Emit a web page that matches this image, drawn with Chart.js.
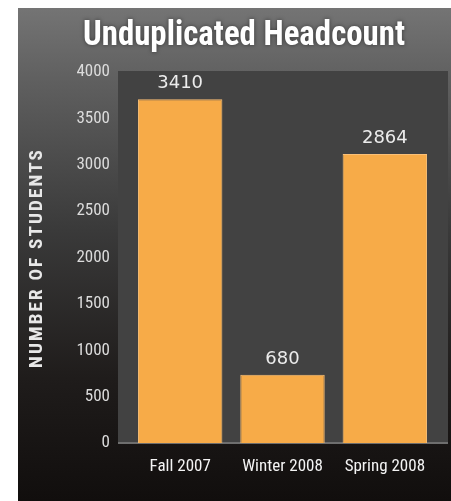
<!DOCTYPE html>
<html><head><meta charset="utf-8">
<script src="https://cdn.jsdelivr.net/npm/chart.js@4"></script>
<style>html,body{margin:0;padding:0;background:#fff;overflow:hidden}</style>
</head><body>
<canvas id="c" width="451" height="501"></canvas>
<script>
// ---- data ----
const titleText = 'Unduplicated Headcount';
const yAxisTitle = 'NUMBER OF STUDENTS';
const categories = ['Fall 2007', 'Winter 2008', 'Spring 2008'];
const barHeights = [3705, 735, 3115];          // bar tops as read against the axis
const valueLabels = ['3410', '680', '2864'];   // numbers printed above the bars
const yTickMin = 0, yTickMax = 4000, yTickStep = 500;

const NARROW = "'Liberation Sans Narrow','Arial Narrow','Roboto Condensed',sans-serif";

const decor = {
  id: 'decor',
  beforeDraw(chart) {
    const ctx = chart.ctx, W = chart.width, H = chart.height, a = chart.chartArea;
    ctx.save();
    ctx.fillStyle = '#ffffff';
    ctx.fillRect(0, 0, W, H);
    const g = ctx.createLinearGradient(0, 8, 0, H);
    g.addColorStop(0, '#747474');
    g.addColorStop(0.15, '#5f5f5f');
    g.addColorStop(0.45, '#3a3a3a');
    g.addColorStop(0.75, '#1f1c1b');
    g.addColorStop(1, '#110e0d');
    ctx.fillStyle = g;
    ctx.fillRect(18, 8, W - 18, H - 8);
    // plot panel
    ctx.fillStyle = '#424242';
    ctx.fillRect(a.left - 11, a.top - 1, a.width + 23, a.height + 1);
    // baseline
    ctx.fillStyle = '#6e6e6e';
    ctx.fillRect(a.left - 11, a.bottom - 1, a.width + 23, 2);
    ctx.restore();
  },
  afterDatasetsDraw(chart) {
    const ctx = chart.ctx;
    const meta = chart.getDatasetMeta(0);
    ctx.save();
    ctx.font = "18px 'DejaVu Sans',sans-serif";
    ctx.fillStyle = '#ececec';
    ctx.textAlign = 'center';
    ctx.textBaseline = 'middle';
    meta.data.forEach((bar, i) => {
      ctx.fillText(valueLabels[i], bar.x, bar.y - 16);
    });
    ctx.restore();
  },
  afterDraw(chart) {
    const ctx = chart.ctx;
    ctx.save();
    // title
    ctx.font = "bold 35px " + NARROW;
    ctx.fillStyle = '#ffffff';
    ctx.textAlign = 'center';
    ctx.textBaseline = 'alphabetic';
    ctx.shadowColor = 'rgba(0,0,0,0.5)';
    ctx.shadowBlur = 4;
    const tw = ctx.measureText(titleText).width;
    ctx.translate(244, 45);
    ctx.scale(322 / tw, 1);
    ctx.fillText(titleText, 0, 0);
    ctx.restore();
    // y axis title
    ctx.save();
    ctx.font = "bold 18px " + NARROW;
    ctx.letterSpacing = '2px';
    ctx.fillStyle = '#e8e8e8';
    ctx.textAlign = 'center';
    ctx.textBaseline = 'middle';
    const yw = ctx.measureText(yAxisTitle).width;
    ctx.translate(37, 258);
    ctx.rotate(-Math.PI / 2);
    ctx.scale(220 / yw, 1);
    ctx.fillText(yAxisTitle, 0, 0);
    ctx.restore();
  }
};

new Chart(document.getElementById('c'), {
  type: 'bar',
  data: {
    labels: categories,
    datasets: [{
      data: barHeights,
      backgroundColor: '#f7ab48',
      borderColor: '#fbc077',
      borderWidth: 1,
      borderSkipped: 'bottom',
      barPercentage: 0.825,
      categoryPercentage: 1
    }]
  },
  options: {
    responsive: false,
    animation: false,
    devicePixelRatio: 1,
    layout: { padding: { left: 18, right: 15, top: 72, bottom: 0 } },
    plugins: { legend: { display: false }, tooltip: { enabled: false }, title: { display: false } },
    scales: {
      x: {
        grid: { display: false, drawTicks: false },
        border: { display: false },
        ticks: { color: '#f4f4f4', font: { family: NARROW, size: 17 }, padding: 14 },
        afterFit(s) { s.height = 58; }
      },
      y: {
        min: yTickMin, max: yTickMax,
        grid: { display: false, drawTicks: false },
        border: { display: false },
        ticks: { stepSize: yTickStep, color: '#dcdcdc', font: { family: NARROW, size: 17 }, padding: 19,
                 callback: (v) => String(v) },
        afterFit(s) { s.width = 111; }
      }
    }
  },
  plugins: [decor]
});
</script>
</body></html>
